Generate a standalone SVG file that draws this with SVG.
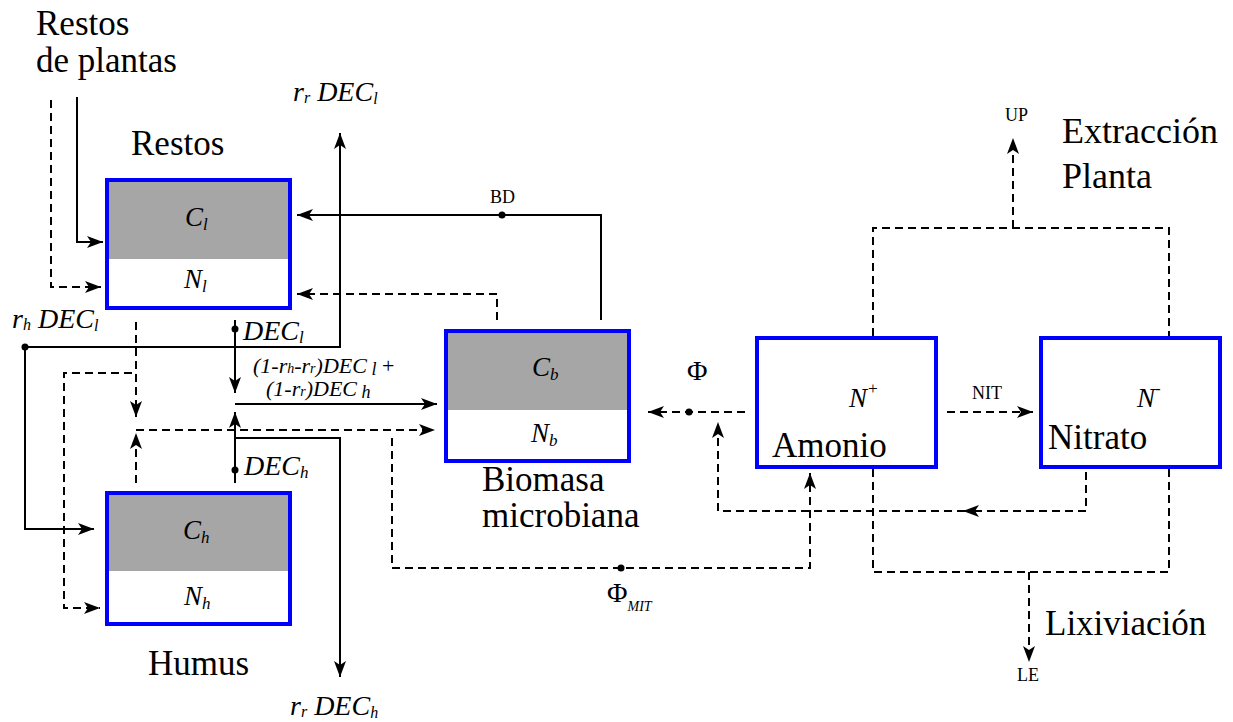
<svg xmlns="http://www.w3.org/2000/svg" width="1233" height="722" viewBox="0 0 1233 722">
<defs>
<marker id="ah" markerUnits="userSpaceOnUse" markerWidth="16" markerHeight="12" refX="16" refY="6" orient="auto" overflow="visible">
<path d="M0,0 L16,6 L0,12 L4,6 Z" fill="#000"/>
</marker>
<style>
.s{fill:none;stroke:#000;stroke-width:2}
.d{fill:none;stroke:#000;stroke-width:2;stroke-dasharray:8,5}
.a{marker-end:url(#ah)}
.box{fill:none;stroke:#0000ff;stroke-width:4}
.g{fill:#a6a6a6}
.w{fill:#fff}
text{font-family:'Liberation Serif','Times New Roman','DejaVu Serif',serif;fill:#000}
.t{font-size:35px}
.i{font-style:italic}
.sm{font-size:18px}
.dot{fill:#000}
</style>
</defs>
<rect width="1233" height="722" fill="#fff"/>

<g id="connectors">
<path class="s a" d="M77,97 V242 H103"/>
<path class="d a" d="M51,100 V287 H101"/>
<path class="s a" d="M25,347 H340 V133"/>
<path class="s a" d="M25,347 V529 H94"/>
<circle class="dot" cx="25" cy="347" r="3.5"/>
<path class="s a" d="M601,320 V215 H297"/>
<circle class="dot" cx="502" cy="215" r="3.5"/>
<path class="d a" d="M497,320 V294 H297"/>
<path class="s a" d="M235,320 V393"/>
<circle class="dot" cx="235" cy="329" r="3.5"/>
<path class="s a" d="M235,404 H437"/>
<path class="s a" d="M235,483 V412"/>
<circle class="dot" cx="235" cy="470" r="3.5"/>
<path class="s a" d="M235,438 H340 V677"/>
<path class="d a" d="M136,322 V417"/>
<path class="d a" d="M136,483 V433"/>
<path class="d a" d="M136,430 H435"/>
<path class="d a" d="M132,373 H64 V608 H100"/>
<path class="d a" d="M392,438 V568 H810 V473"/>
<circle class="dot" cx="621" cy="568" r="3.5"/>
<path class="d a" d="M745,412 H648"/>
<circle class="dot" cx="689" cy="412" r="3.5"/>
<path class="d a" d="M947,412 H1033"/>
<path class="d a" d="M1086,472 V511 H963"/>
<path class="d a" d="M965,511 H718 V422"/>
<path class="d" d="M873,336 V228 H1169 V336"/>
<path class="d a" d="M1013,228 V138"/>
<path class="d" d="M873,469 V572 H1169 V469"/>
<path class="d a" d="M1029,572 V662"/>
</g>

<g id="restos">
<rect class="w" x="107" y="180" width="183" height="128"/>
<rect class="g" x="107" y="180" width="183" height="79"/>
<rect class="box" x="107" y="180" width="183" height="128"/>
<text class="i" x="185" y="226" font-size="27">C<tspan font-size="17" dy="4">l</tspan></text>
<text class="i" x="184" y="288" font-size="27">N<tspan font-size="17" dy="4">l</tspan></text>
<text class="t" x="131" y="155">Restos</text>
</g>

<g id="humus">
<rect class="w" x="107" y="493" width="183" height="131"/>
<rect class="g" x="107" y="493" width="183" height="78"/>
<rect class="box" x="107" y="493" width="183" height="131"/>
<text class="i" x="183" y="539" font-size="27">C<tspan font-size="17" dy="4">h</tspan></text>
<text class="i" x="184" y="605" font-size="27">N<tspan font-size="17" dy="4">h</tspan></text>
<text class="t" x="148" y="675">Humus</text>
</g>

<g id="biomasa">
<rect class="w" x="446" y="331" width="183" height="130"/>
<rect class="g" x="446" y="331" width="183" height="79"/>
<rect class="box" x="446" y="331" width="183" height="130"/>
<text class="i" x="532" y="376" font-size="27">C<tspan font-size="17" dy="4">b</tspan></text>
<text class="i" x="531" y="442" font-size="27">N<tspan font-size="17" dy="4">b</tspan></text>
<text class="t" x="482" y="491">Biomasa</text>
<text class="t" x="482" y="527">microbiana</text>
</g>

<g id="amonio">
<rect class="w" x="757" y="338" width="179" height="129"/>
<rect class="box" x="757" y="338" width="179" height="129"/>
<text class="i" x="849" y="407" font-size="27">N<tspan font-size="17" dy="-13">+</tspan></text>
<text class="t" x="772" y="457">Amonio</text>
</g>

<g id="nitrato">
<rect class="w" x="1041" y="338" width="179" height="129"/>
<rect class="box" x="1041" y="338" width="179" height="129"/>
<text class="i" x="1137" y="407" font-size="27">N<tspan font-size="17" dy="-13">-</tspan></text>
<text class="t" x="1048" y="449">Nitrato</text>
</g>

<g id="labels">
<text class="t" x="36" y="35">Restos</text>
<text class="t" x="36" y="72">de plantas</text>
<text class="i" x="293" y="101" font-size="28">r<tspan font-size="16" dy="2">r</tspan><tspan dy="-2"> DEC</tspan><tspan font-size="16" dy="3">l</tspan></text>
<text class="i" x="12" y="328" font-size="28">r<tspan font-size="16" dy="2">h</tspan><tspan dy="-2"> DEC</tspan><tspan font-size="16" dy="3">l</tspan></text>
<text class="i" x="243" y="340" font-size="28">DEC<tspan font-size="17" dy="3">l</tspan></text>
<text class="i" x="244" y="475" font-size="28">DEC<tspan font-size="17" dy="3">h</tspan></text>
<text class="i" x="253" y="373" font-size="22">(1-r<tspan font-size="14">h</tspan>-r<tspan font-size="14">r</tspan>)DEC<tspan font-size="18" dy="2"> l</tspan><tspan dy="-2" font-style="normal"> +</tspan></text>
<text class="i" x="266" y="396" font-size="22">(1-r<tspan font-size="14">r</tspan>)DEC<tspan font-size="18" dy="2"> h</tspan></text>
<text class="i" x="290" y="715" font-size="28">r<tspan font-size="16" dy="2">r</tspan><tspan dy="-2"> DEC</tspan><tspan font-size="16" dy="3">h</tspan></text>
<text class="sm" x="490" y="203">BD</text>
<text x="687" y="380" font-size="28">Φ</text>
<text x="607" y="602" font-size="28">Φ<tspan class="i" font-size="14" dy="9">MIT</tspan></text>
<text class="sm" x="972" y="399">NIT</text>
<text class="sm" x="1005" y="121">UP</text>
<text class="t" x="1062" y="143" font-size="36" style="font-size:36px">Extracción</text>
<text class="t" x="1062" y="188" style="font-size:36px">Planta</text>
<text class="sm" x="1017" y="681">LE</text>
<text class="t" x="1045" y="635">Lixiviación</text>
</g>
</svg>
